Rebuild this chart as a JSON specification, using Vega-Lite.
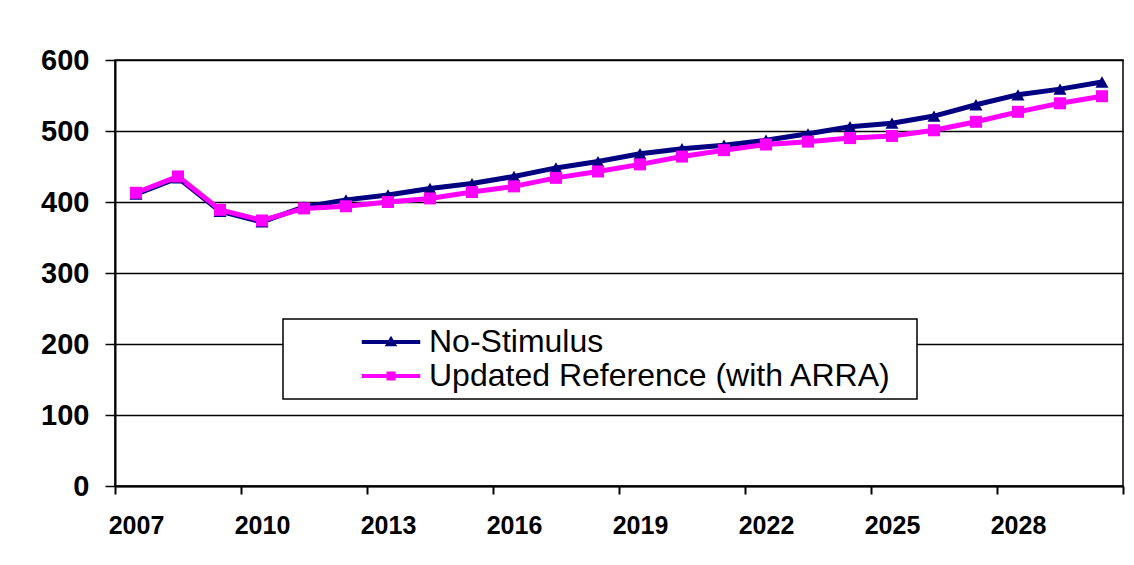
{
  "$schema": "https://vega.github.io/schema/vega-lite/v6.json",
  "width": 1008,
  "height": 426,
  "autosize": {"type": "none"},
  "padding": {"left": 115, "top": 60, "right": 11, "bottom": 79},
  "background": "white",
  "config": {
    "font": "Liberation Sans",
    "view": {"stroke": "black", "strokeWidth": 1.5}
  },
  "data": {
    "values": [
      {"year": 2007, "series": "No-Stimulus", "value": 411},
      {"year": 2008, "series": "No-Stimulus", "value": 434},
      {"year": 2009, "series": "No-Stimulus", "value": 387},
      {"year": 2010, "series": "No-Stimulus", "value": 372},
      {"year": 2011, "series": "No-Stimulus", "value": 393},
      {"year": 2012, "series": "No-Stimulus", "value": 403},
      {"year": 2013, "series": "No-Stimulus", "value": 410},
      {"year": 2014, "series": "No-Stimulus", "value": 419},
      {"year": 2015, "series": "No-Stimulus", "value": 426},
      {"year": 2016, "series": "No-Stimulus", "value": 436},
      {"year": 2017, "series": "No-Stimulus", "value": 448},
      {"year": 2018, "series": "No-Stimulus", "value": 457},
      {"year": 2019, "series": "No-Stimulus", "value": 468},
      {"year": 2020, "series": "No-Stimulus", "value": 475},
      {"year": 2021, "series": "No-Stimulus", "value": 480},
      {"year": 2022, "series": "No-Stimulus", "value": 487},
      {"year": 2023, "series": "No-Stimulus", "value": 496},
      {"year": 2024, "series": "No-Stimulus", "value": 506},
      {"year": 2025, "series": "No-Stimulus", "value": 511},
      {"year": 2026, "series": "No-Stimulus", "value": 521},
      {"year": 2027, "series": "No-Stimulus", "value": 537},
      {"year": 2028, "series": "No-Stimulus", "value": 551},
      {"year": 2029, "series": "No-Stimulus", "value": 559},
      {"year": 2030, "series": "No-Stimulus", "value": 569},
      {"year": 2007, "series": "Updated Reference (with ARRA)", "value": 413},
      {"year": 2008, "series": "Updated Reference (with ARRA)", "value": 436},
      {"year": 2009, "series": "Updated Reference (with ARRA)", "value": 389},
      {"year": 2010, "series": "Updated Reference (with ARRA)", "value": 374},
      {"year": 2011, "series": "Updated Reference (with ARRA)", "value": 391},
      {"year": 2012, "series": "Updated Reference (with ARRA)", "value": 394},
      {"year": 2013, "series": "Updated Reference (with ARRA)", "value": 400},
      {"year": 2014, "series": "Updated Reference (with ARRA)", "value": 405},
      {"year": 2015, "series": "Updated Reference (with ARRA)", "value": 414},
      {"year": 2016, "series": "Updated Reference (with ARRA)", "value": 422},
      {"year": 2017, "series": "Updated Reference (with ARRA)", "value": 434},
      {"year": 2018, "series": "Updated Reference (with ARRA)", "value": 443},
      {"year": 2019, "series": "Updated Reference (with ARRA)", "value": 453},
      {"year": 2020, "series": "Updated Reference (with ARRA)", "value": 464},
      {"year": 2021, "series": "Updated Reference (with ARRA)", "value": 473},
      {"year": 2022, "series": "Updated Reference (with ARRA)", "value": 481},
      {"year": 2023, "series": "Updated Reference (with ARRA)", "value": 485},
      {"year": 2024, "series": "Updated Reference (with ARRA)", "value": 490},
      {"year": 2025, "series": "Updated Reference (with ARRA)", "value": 493},
      {"year": 2026, "series": "Updated Reference (with ARRA)", "value": 501},
      {"year": 2027, "series": "Updated Reference (with ARRA)", "value": 513},
      {"year": 2028, "series": "Updated Reference (with ARRA)", "value": 527},
      {"year": 2029, "series": "Updated Reference (with ARRA)", "value": 539},
      {"year": 2030, "series": "Updated Reference (with ARRA)", "value": 549}
    ]
  },
  "encoding": {
    "x": {
      "field": "year",
      "type": "quantitative",
      "scale": {"domain": [2006.5, 2030.5], "nice": false, "zero": false},
      "axis": {
        "title": null,
        "values": [2006.5, 2009.5, 2012.5, 2015.5, 2018.5, 2021.5, 2024.5, 2027.5, 2030.5],
        "labelExpr": "datum.value > 2030 ? '' : format(datum.value + 0.5, 'd')",
        "labelOffset": 21,
        "labelOverlap": false,
        "labelFlush": false,
        "labelBound": false,
        "labelFont": "Liberation Sans",
        "labelFontSize": 25,
        "labelFontWeight": "bold",
        "labelColor": "black",
        "labelPadding": 19,
        "domainColor": "black",
        "domainWidth": 2,
        "tickColor": "black",
        "tickWidth": 2,
        "tickSize": 8,
        "grid": false
      }
    },
    "y": {
      "field": "value",
      "type": "quantitative",
      "scale": {"domain": [0, 600], "nice": false},
      "axis": {
        "title": null,
        "values": [0, 100, 200, 300, 400, 500, 600],
        "labelFont": "Liberation Sans",
        "labelFontSize": 29,
        "labelFontWeight": "bold",
        "labelColor": "black",
        "labelPadding": 16,
        "domainColor": "black",
        "domainWidth": 2,
        "tickColor": "black",
        "tickWidth": 1.5,
        "tickSize": 10,
        "grid": true,
        "gridColor": "black",
        "gridWidth": 1.5,
        "gridOpacity": 1
      }
    },
    "color": {
      "field": "series",
      "type": "nominal",
      "sort": ["No-Stimulus", "Updated Reference (with ARRA)"],
      "scale": {"domain": ["No-Stimulus", "Updated Reference (with ARRA)"], "range": ["#000080", "#FF00FF"]},
      "legend": {
        "title": "|",
        "titleOrient": "right",
        "titleColor": "white",
        "titleOpacity": 0,
        "titleFontSize": 32,
        "titlePadding": 10,
        "orient": "none",
        "legendX": 168,
        "legendY": 259,
        "fillColor": "white",
        "strokeColor": "black",
        "padding": 7,
        "rowPadding": 2,
        "symbolSize": 900,
        "symbolOffset": 85,
        "labelOffset": 22,
        "labelFont": "Liberation Sans",
        "labelFontSize": 32,
        "labelColor": "black",
        "labelLimit": 1000,
        "encode": {
          "legend": {
            "update": {
              "strokeWidth": {"value": 1.5}
            }
          },
          "symbols": {
            "update": {
              "shape": {"signal": "datum.value === 'No-Stimulus' ? 'M-1.95,-0.14H1.95V0.14H-1.95ZM-0.42,0.28L0,-0.42L0.42,0.28Z' : 'M-1.95,-0.14H1.95V0.14H-1.95ZM-0.3,-0.3H0.3V0.3H-0.3Z'"},
              "size": {"value": 900},
              "fill": {"signal": "datum.value === 'No-Stimulus' ? '#000080' : '#FF00FF'"},
              "fillOpacity": {"value": 1},
              "stroke": {"value": "transparent"},
              "strokeWidth": {"value": 0},
              "opacity": {"value": 1}
            }
          }
        }
      }
    }
  },
  "layer": [
    {
      "mark": {"type": "line", "strokeWidth": 5}
    },
    {
      "transform": [{"filter": "datum.series === 'No-Stimulus'"}],
      "mark": {"type": "point", "filled": true, "opacity": 1, "shape": "triangle-up", "size": 170}
    },
    {
      "transform": [{"filter": "datum.series !== 'No-Stimulus'"}],
      "mark": {"type": "point", "filled": true, "opacity": 1, "shape": "square", "size": 144}
    }
  ]
}
